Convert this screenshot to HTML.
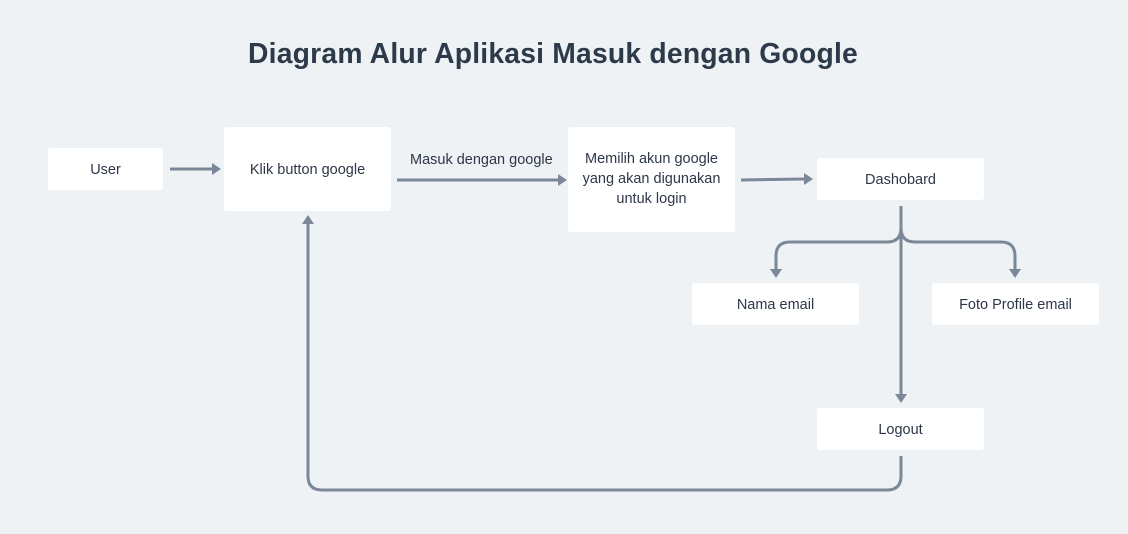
<!DOCTYPE html>
<html><head><meta charset="utf-8"><style>
body{margin:0;width:1128px;height:534px;background:#eff2f5;font-family:"Liberation Sans",sans-serif;position:relative;overflow:hidden;color:#2d3748}
.t{position:absolute;left:0;width:1106px;top:37px;text-align:center;font-weight:bold;font-size:28.3px;color:#2d3a4a;letter-spacing:0.2px}
.b{position:absolute;background:#fff;border-radius:3px;display:flex;align-items:center;justify-content:center;text-align:center;font-size:14.5px;line-height:20px;color:#2d3748;padding-top:2px;box-sizing:border-box}
.l{position:absolute;font-size:14.5px;color:#2d3748}
svg{position:absolute;left:0;top:0}
</style></head><body>
<div class="t">Diagram Alur Aplikasi Masuk dengan Google</div>
<svg width="1128" height="534" fill="none" stroke="#7a8898" stroke-width="3">
<path d="M170 169H213"/><path d="M212 163l9 6-9 6z" fill="#7a8898" stroke="none"/>
<path d="M397 180H559"/><path d="M558 174l9 6-9 6z" fill="#7a8898" stroke="none"/>
<path d="M741 180L805 179"/><path d="M804 173l9 6-9 6z" fill="#7a8898" stroke="none"/>
<path d="M901 206V395"/><path d="M895 394l6 9 6-9z" fill="#7a8898" stroke="none"/>
<path d="M901 228Q901 242 887 242H790Q776 242 776 256V270"/><path d="M770 269l6 9 6-9z" fill="#7a8898" stroke="none"/>
<path d="M901 228Q901 242 915 242H1001Q1015 242 1015 256V270"/><path d="M1009 269l6 9 6-9z" fill="#7a8898" stroke="none"/>
<path d="M901 456V476Q901 490 887 490H322Q308 490 308 476V223"/><path d="M302 224l6-9 6 9z" fill="#7a8898" stroke="none"/>
</svg>
<div class="b" style="left:48px;top:148px;width:115px;height:42px">User</div>
<div class="b" style="left:224px;top:127px;width:167px;height:84px">Klik button google</div>
<div class="l" style="left:410px;top:152px">Masuk dengan google</div>
<div class="b" style="left:568px;top:127px;width:167px;height:105px;align-items:flex-start;padding-top:22px">Memilih akun google<br>yang akan digunakan<br>untuk login</div>
<div class="b" style="left:817px;top:158px;width:167px;height:42px">Dashobard</div>
<div class="b" style="left:692px;top:283px;width:167px;height:42px">Nama email</div>
<div class="b" style="left:932px;top:283px;width:167px;height:42px">Foto Profile email</div>
<div class="b" style="left:817px;top:408px;width:167px;height:42px">Logout</div>
</body></html>
